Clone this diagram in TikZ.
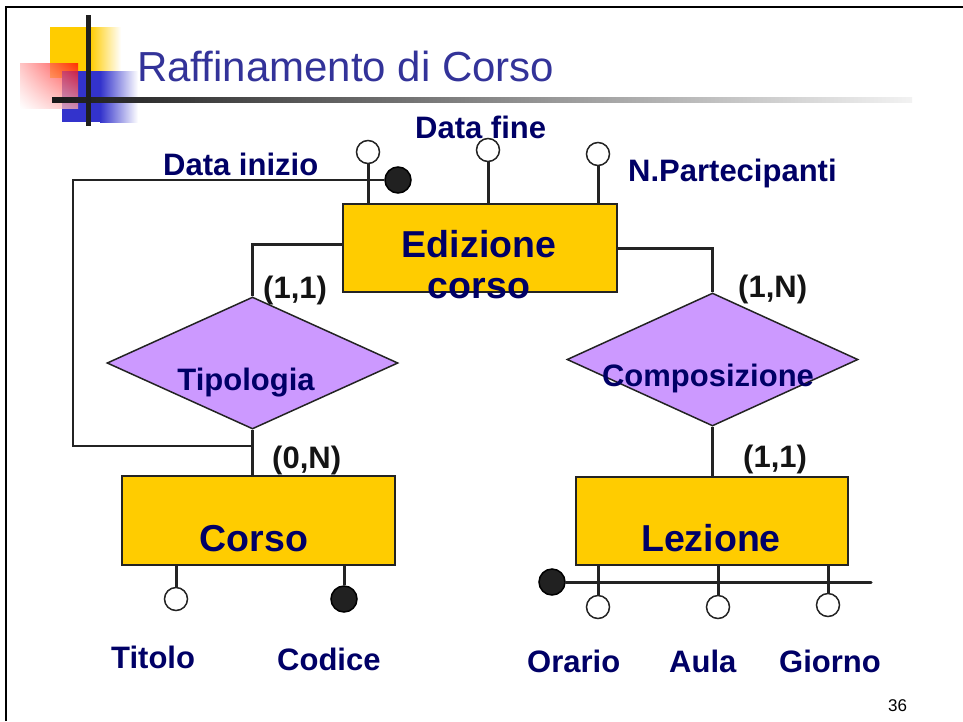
\documentclass[tikz,border=0pt]{standalone}
\usepackage{fontspec}
\setmainfont{Liberation Sans}
\usetikzlibrary{shapes.geometric,shadings}
\definecolor{navy}{RGB}{0,0,102}
\definecolor{titleblue}{RGB}{51,51,153}
\definecolor{boxyellow}{RGB}{255,204,0}
\definecolor{lilac}{RGB}{204,153,255}
\definecolor{logoblue}{RGB}{51,51,204}
\definecolor{edge}{RGB}{35,35,35}
\begin{document}
\begin{tikzpicture}[x=1pt,y=-1pt,
 entity/.style={draw=edge, line width=1.5pt, fill=boxyellow, rectangle, inner sep=0pt},
 relation/.style={draw=edge, line width=1.5pt, fill=lilac, diamond, inner sep=0pt},
 conn/.style={draw=edge, line width=3pt},
 thinconn/.style={draw=edge, line width=2pt},
 attr/.style={circle, draw=edge, line width=1.5pt, fill=white, minimum size=23pt, inner sep=0pt},
 keyattr/.style={circle, draw=black, line width=1.5pt, fill=black!87, minimum size=26pt, inner sep=0pt},
 lbl/.style={font=\fontsize{31}{36}\selectfont\bfseries, text=navy, inner sep=0pt},
 big/.style={font=\fontsize{37.5}{41}\selectfont\bfseries, text=navy, inner sep=0pt},
 card/.style={font=\fontsize{31}{36}\selectfont\bfseries, text=black!92, inner sep=0pt},
]
\useasboundingbox (0,0) rectangle (963,721);
% frame
\draw[line width=2pt] (5.5,721) -- (5.5,6.5) -- (963,6.5);
% logo
\fill[boxyellow] (50,27) rectangle (90,78);
\shade[left color=boxyellow, right color=white] (90,27) rectangle (121,78);
\fill[logoblue] (62,71) rectangle (100,122);
\shade[left color=logoblue, right color=white] (100,71) rectangle (138,122);
\shade[upper right=red, upper left=red!30, lower right=red!35, lower left=white, opacity=0.75] (20,63) rectangle (78,108);
\shade[left color=black!90, right color=black!5] (52,97) rectangle (912,102);
\fill[black!88] (86,15) rectangle (91,126);
% title
\node[anchor=base west, font=\fontsize{42}{48}\selectfont, text=titleblue, inner sep=0pt] (title) at (137,81) {Raffinamento di Corso};

% entities and relations
\node[entity, minimum width=274pt, minimum height=88pt] (edz) at (480,248) {};
\node[entity, minimum width=273pt, minimum height=89pt] (corso) at (258.5,520.5) {};
\node[entity, minimum width=272pt, minimum height=88pt] (lez) at (712,521) {};
\node[relation, minimum width=291pt, minimum height=132pt] (tip) at (252.5,363) {};
\node[relation, minimum width=291pt, minimum height=133pt] (comp) at (712.5,359.5) {};

% attributes of Edizione corso
\node[attr] (a1) at (368,152) {};
\node[attr] (a2) at (488,150) {};
\node[attr] (a3) at (598,154) {};
\node[keyattr] (k1) at (398,180) {};
\draw[conn] (edz.north -| a1) -- (a1.south);
\draw[conn] (edz.north -| a2) -- (a2.south);
\draw[conn] (edz.north -| a3) -- (a3.south);

% loop (identifier)
\coordinate (loopTop) at (73,180);
\coordinate (loopBot) at (73,446);
\draw[thinconn] (k1.west) -- (loopTop) -- (loopBot) -- (loopBot -| tip.south);

% relationship connectors
\draw[conn] ([yshift=4pt]edz.west) -- ([yshift=4pt]edz.west -| tip.north) -- (tip.north);
\draw[conn] (edz.east) -- (edz.east -| comp.north) -- (comp.north);
\draw[conn] (tip.south) -- (corso.north -| tip.south);
\draw[conn] (comp.south) -- (lez.north -| comp.south);

% Corso attributes
\node[attr] (titolo) at (176,599) {};
\node[keyattr] (codice) at (344,599) {};
\draw[conn] (corso.south -| titolo) -- (titolo.north);
\draw[conn] (corso.south -| codice) -- (codice.north);

% Lezione attributes
\node[keyattr] (lk) at (552,582) {};
\coordinate (lend) at (871,582);
\draw[conn, line cap=round] (lk.east) -- (lend);
\node[attr] (orario) at (598,607) {};
\node[attr] (aula) at (718,607) {};
\node[attr] (giorno) at (828,605) {};
\draw[conn] (lez.south -| orario) -- (orario.north);
\draw[conn] (lez.south -| aula) -- (aula.north);
\draw[conn] (lez.south -| giorno) -- (giorno.north);

% texts
\node[lbl, anchor=base west] (tdinizio) at (163,175) {Data inizio};
\node[lbl, anchor=base west] (tdfine) at (415,138) {Data fine};
\node[lbl, anchor=base west] (tnpart) at (628,181) {N.Partecipanti};
\node[big, anchor=base] (tedz1) at (479,257) {Edizione};
\node[big, anchor=base] (tedz2) at (479,298) {corso};
\node[lbl, anchor=base] (ttip) at (246,390) {Tipologia};
\node[lbl, anchor=base] (tcomp) at (708,386) {Composizione};
\node[big, anchor=base] (tcorso) at (254,551) {Corso};
\node[big, anchor=base] (tlez) at (711,551) {Lezione};
\node[lbl, anchor=base west] (ttitolo) at (111,668) {Titolo};
\node[lbl, anchor=base west] (tcodice) at (277,670) {Codice};
\node[lbl, anchor=base west] (torario) at (527,672) {Orario};
\node[lbl, anchor=base west] (taula) at (669,672) {Aula};
\node[lbl, anchor=base west] (tgiorno) at (779,672) {Giorno};

% cardinalities
\node[card, anchor=base west] (c1) at (263,298) {(1,1)};
\node[card, anchor=base west] (c2) at (738,297) {(1,N)};
\node[card, anchor=base west] (c3) at (272,468) {(0,N)};
\node[card, anchor=base west] (c4) at (743,467) {(1,1)};

% page number
\node[anchor=base west, font=\fontsize{17}{20}\selectfont, inner sep=0pt] (pg) at (888,711) {36};
\end{tikzpicture}
\end{document}
